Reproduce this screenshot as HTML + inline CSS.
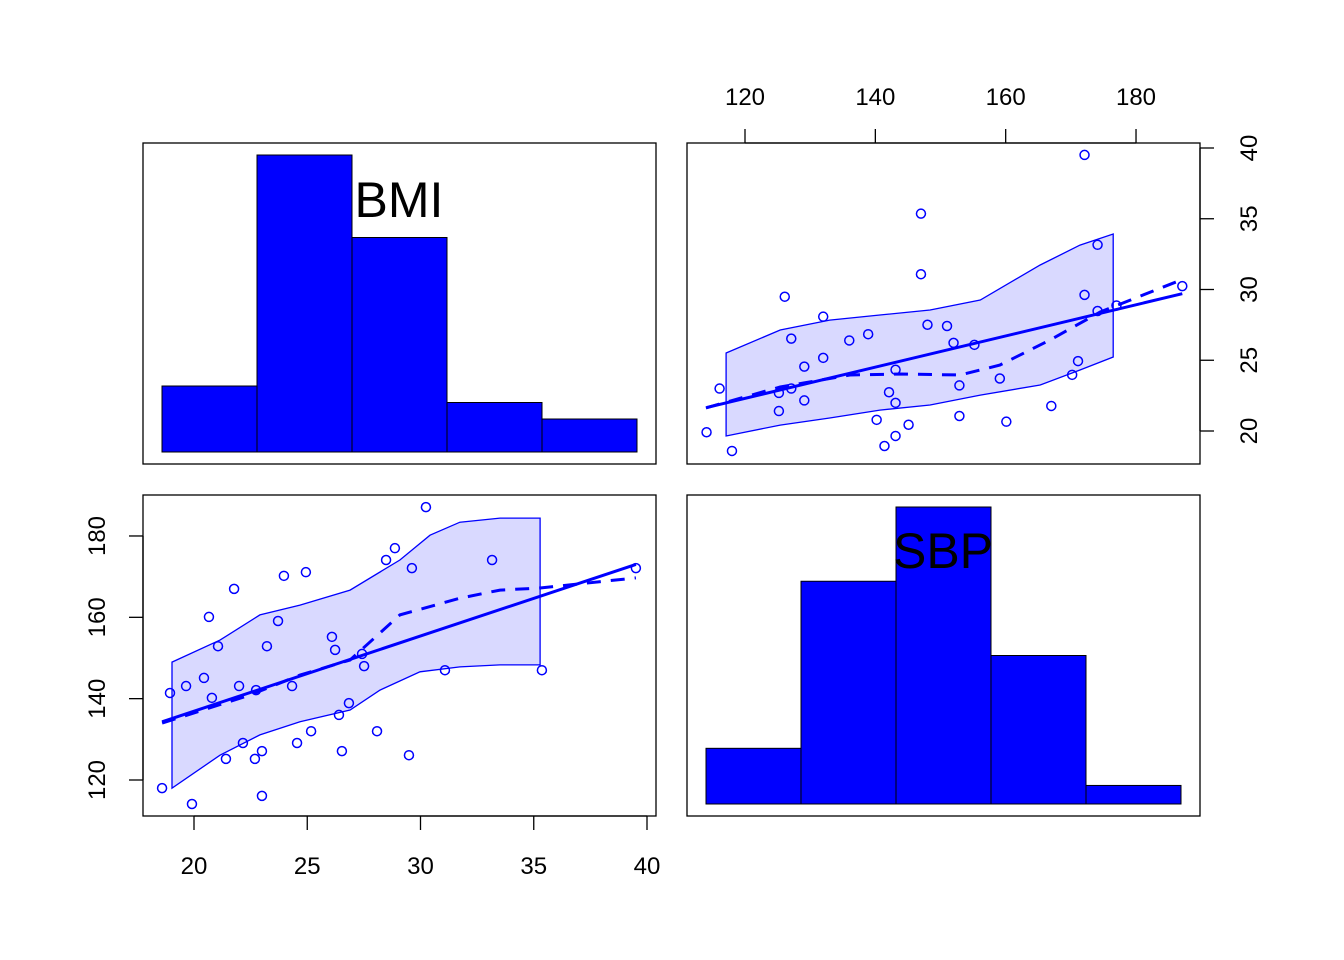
<!DOCTYPE html>
<html><head><meta charset="utf-8"><style>
body{margin:0;background:#fff}
svg{display:block;font-family:"Liberation Sans",Arial,sans-serif}
</style></head><body>
<svg id="c" width="1344" height="960" viewBox="0 0 1344 960"></svg>
<script>
const bmi=[18.59,18.94,19.65,19.91,20.44,20.66,20.79,21.06,21.41,21.77,21.99,22.16,22.69,22.74,23.00,23.00,23.22,23.71,23.97,24.33,24.55,24.94,25.17,26.09,26.23,26.40,26.53,26.84,27.42,27.51,28.08,28.48,28.87,29.49,29.62,30.24,31.08,33.16,35.36,39.51];
const sbp=[118.0,141.4,143.1,114.1,145.1,160.1,140.2,152.9,125.2,167.0,143.1,129.1,125.2,142.1,116.1,127.1,152.9,159.1,170.2,143.1,129.1,171.1,132.0,155.2,152.0,136.0,127.1,138.9,151.0,148.0,132.0,174.1,177.0,126.1,172.1,187.1,147.0,174.1,147.0,172.1];
const bmiHist=[4,18,13,3,2];
const sbpHist=[3,12,16,8,1];
const bmiTicks=[20,25,30,35,40];
const sbpTicks=[120,140,160,180];
const sbpTopTicks=[120,140,160,180];
const bmiRightTicks=[20,25,30,35,40];
// bottom-left: loess SBP~BMI and spread band
const blLoessX=[18.59,22.47,24.68,26.89,29.09,31.74,33.51,35.28,39.51];
const blLoessY=[134.0,140.9,145.8,149.5,160.6,164.7,166.7,167.2,169.7];
const blBandX=[19.03,21.15,22.91,24.68,26.89,29.09,30.42,31.74,33.51,35.28];
const blBandUp=[149.0,154.4,160.6,163.0,166.7,174.1,180.2,183.4,184.4,184.4];
const blBandX2=[19.03,21.15,22.91,24.68,26.89,28.21,29.98,31.74,33.51,35.28];
const blBandLo=[118.0,126.1,131.1,134.3,137.2,142.1,146.6,147.8,148.3,148.3];
// top-right: loess BMI~SBP and band
const trLoessX=[114.0,125.4,136.1,143.8,153.0,159.1,166.8,174.5,186.9];
const trLoessY=[21.63,23.11,23.96,24.03,23.96,24.66,26.43,28.41,30.67];
const trBandX=[117.1,125.4,133.0,140.7,148.4,156.1,165.3,171.4,176.5];
const trBandUp=[25.51,27.14,27.84,28.20,28.55,29.26,31.73,33.14,33.92];
const trBandLo=[19.65,20.42,20.92,21.48,21.84,22.54,23.25,24.31,25.23];

const svg=document.getElementById('c');const NS='http://www.w3.org/2000/svg';
function mk(t,a,p){const e=document.createElementNS(NS,t);for(const k in a)e.setAttribute(k,a[k]);(p||svg).appendChild(e);return e;}
const B='#0000ff';
// scales
const bx=v=>194+(v-20)*22.65, sy=v=>780-(v-120)*4.067;
const sx=v=>745+(v-120)*6.517, by=v=>431-(v-20)*14.15;
function frame(x,y,n){const r=mk('rect',{x:x,y:y,width:513,height:321,fill:'none',stroke:'#000','stroke-width':1.3});}
// histograms
function hist(counts,x0,bot,top,name){const g=mk('g',{});
 const mx=Math.max(...counts);counts.forEach((c,i)=>{const h=c/mx*(bot-top);const r=mk('rect',{x:x0+i*95,y:bot-h,width:95,height:h,fill:B,stroke:'#000','stroke-width':1},g);});}
hist(bmiHist,162,452,155,'bmi-histogram');
hist(sbpHist,706,804,507,'sbp-histogram');
function lab(t,x,y,n){const e=mk('text',{x:x,y:y,'font-size':50,'text-anchor':'middle'});e.textContent=t;}
lab('BMI',399,217,'bmi-label');lab('SBP',943,568,'sbp-label');
function pts(arr){return arr.map(p=>p[0].toFixed(1)+','+p[1].toFixed(1)).join(' ');}
function panel(xs,ys,fx,fy,bx1,bu,bx2,bl,lx,ly,name){
 const g=mk('g',{});
 const poly=bx1.map((v,i)=>[fx(v),fy(bu[i])]).concat(bx2.map((v,i)=>[fx(v),fy(bl[i])]).reverse());
 const b=mk('polygon',{points:pts(poly),fill:'rgba(0,0,255,0.15)',stroke:B,'stroke-width':1.3},g);
 xs.forEach((v,i)=>{const c=mk('circle',{cx:fx(v),cy:fy(ys[i]),r:4.5,fill:'none',stroke:B,'stroke-width':1.5},g);});
 const n=xs.length,mxv=xs.reduce((a,b)=>a+b)/n,myv=ys.reduce((a,b)=>a+b)/n;let sxy=0,sxx=0;xs.forEach((v,i)=>{sxy+=(v-mxv)*(ys[i]-myv);sxx+=(v-mxv)**2;});
 const s=sxy/sxx,x1=Math.min(...xs),x2=Math.max(...xs);
 const l=mk('line',{x1:fx(x1),y1:fy(myv+s*(x1-mxv)),x2:fx(x2),y2:fy(myv+s*(x2-mxv)),stroke:B,'stroke-width':3},g);
 const d=mk('polyline',{points:pts(lx.map((v,i)=>[fx(v),fy(ly[i])])),fill:'none',stroke:B,'stroke-width':3,'stroke-dasharray':'14,10'},g);
}
panel(sbp,bmi,sx,by,trBandX,trBandUp,trBandX,trBandLo,trLoessX,trLoessY,'bmi-vs-sbp-panel');
panel(bmi,sbp,bx,sy,blBandX,blBandUp,blBandX2,blBandLo,blLoessX,blLoessY,'sbp-vs-bmi-panel');
frame(143,143,'panel-frame-tl');frame(687,143,'panel-frame-tr');frame(143,495,'panel-frame-bl');frame(687,495,'panel-frame-br');
// axes
function axisG(n){const g=mk('g',{});return g;}
let g=axisG('bmi-x-axis');mk('line',{x1:bx(20),x2:bx(40),y1:816,y2:816,stroke:'#000','stroke-width':1.3},g);
bmiTicks.forEach(v=>{mk('line',{x1:bx(v),x2:bx(v),y1:816,y2:830,stroke:'#000','stroke-width':1.3},g);const t=mk('text',{x:bx(v),y:874,'font-size':24,'text-anchor':'middle'},g);t.textContent=v;});
g=axisG('sbp-y-axis');mk('line',{x1:143,x2:143,y1:sy(120),y2:sy(180),stroke:'#000','stroke-width':1.3},g);
sbpTicks.forEach(v=>{mk('line',{x1:143,x2:129,y1:sy(v),y2:sy(v),stroke:'#000','stroke-width':1.3},g);const t=mk('text',{x:105,y:sy(v),'font-size':24,'text-anchor':'middle',transform:`rotate(-90 105 ${sy(v)})`},g);t.textContent=v;});
g=axisG('sbp-top-axis');mk('line',{x1:sx(120),x2:sx(180),y1:143,y2:143,stroke:'#000','stroke-width':1.3},g);
sbpTopTicks.forEach(v=>{mk('line',{x1:sx(v),x2:sx(v),y1:143,y2:129,stroke:'#000','stroke-width':1.3},g);const t=mk('text',{x:sx(v),y:105,'font-size':24,'text-anchor':'middle'},g);t.textContent=v;});
g=axisG('bmi-right-axis');mk('line',{x1:1200,x2:1200,y1:by(20),y2:by(40),stroke:'#000','stroke-width':1.3},g);
bmiRightTicks.forEach(v=>{mk('line',{x1:1200,x2:1214,y1:by(v),y2:by(v),stroke:'#000','stroke-width':1.3},g);const t=mk('text',{x:1257,y:by(v),'font-size':24,'text-anchor':'middle',transform:`rotate(-90 1257 ${by(v)})`},g);t.textContent=v;});
</script>
</body></html>
